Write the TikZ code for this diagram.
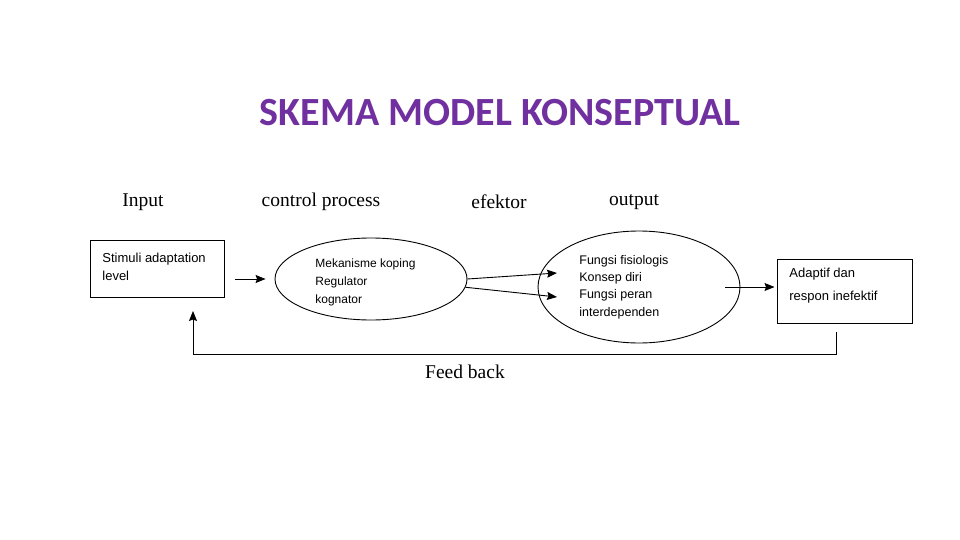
\documentclass[tikz,border=0pt]{standalone}
\usepackage{xcolor}
\usepackage{fontspec}
\setmainfont{Liberation Sans}
\newfontfamily\labelfont{Liberation Serif}
\newfontfamily\titlefont{Carlito}
\usepackage{tikz}
\usetikzlibrary{arrows.meta,shapes.geometric,positioning}
\definecolor{judul}{RGB}{112,48,160}

\begin{document}
\begin{tikzpicture}[x=1pt,y=-1pt,>={Stealth[length=10pt,width=8pt,inset=1.5pt]},thick,
  box node/.style={draw,line width=1pt,inner sep=0pt},
  oval node/.style={draw,ellipse,line width=0.9pt,inner sep=0pt},
  text node/.style={anchor=west,align=left,inner sep=0pt},
  head node/.style={font=\labelfont\fontsize{19.5}{22}\selectfont,inner sep=0pt}]
  \useasboundingbox (0,0) rectangle (960,540);

  \node[font=\titlefont\bfseries\fontsize{40}{44}\selectfont,text=judul] (judul) at (500,113) {SKEMA MODEL KONSEPTUAL};

  \node[head node] (input) at (143,202) {Input};
  \node[head node] (control) at (321,202) {control process};
  \node[head node] (efektor) at (499,202) {efektor};
  \node[head node] (output) at (634,202) {output};

  \node[box node,minimum width=134pt,minimum height=57pt] (stimuli) at (157,268.5) {};
  \node[text node,font=\fontsize{13}{18}\selectfont] (stimulitxt) at (102,267) {Stimuli adaptation\\level};

  \node[oval node,minimum width=192pt,minimum height=82pt] (ctrl) at (371,279) {};
  \node[text node,font=\fontsize{12}{18}\selectfont] (ctrltxt) at (315,282) {Mekanisme koping\\Regulator\\kognator};

  \node[oval node,minimum width=202pt,minimum height=112pt] (out) at (639,287) {};
  \node[text node,font=\fontsize{12.5}{17.3}\selectfont] (outtxt) at (579,287) {Fungsi fisiologis\\Konsep diri\\Fungsi peran\\interdependen};

  \node[box node,minimum width=135pt,minimum height=64pt] (hasil) at (844.5,291) {};
  \node[text node,font=\fontsize{13}{23}\selectfont] (hasiltxt) at (789,285.5) {Adaptif dan\\respon inefektif};

  \coordinate (tipA) at (557,273);
  \coordinate (tipB) at (557,297);
  \coordinate (fbA) at (836,332);
  \coordinate (fbB) at (193,311);

  \draw[->,line width=0.9pt,shorten <=10pt,shorten >=9pt] (stimuli.east |- ctrl.west) -- (ctrl.west);
  \draw[->,line width=0.9pt] (ctrl.east) -- (tipA);
  \draw[->,line width=0.9pt] (ctrl.-5) -- (tipB);
  \draw[->,line width=0.9pt,shorten <=86pt,shorten >=2pt] (out.center) -- (hasil.west |- out.center);
  \draw[->,line width=1pt] (fbA) -- ++(0,22) -| (fbB);

  \node[head node] (feedback) at (465,372) {Feed back};
\end{tikzpicture}
\end{document}
